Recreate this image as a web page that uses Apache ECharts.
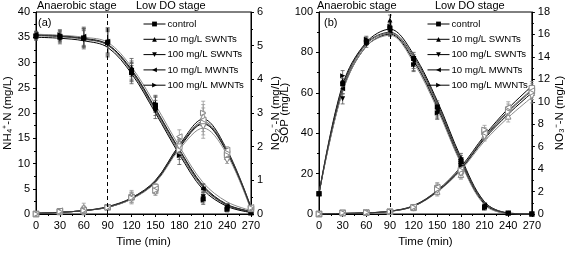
<!DOCTYPE html>
<html><head><meta charset="utf-8">
<script src="https://cdn.jsdelivr.net/npm/echarts@6/dist/echarts.min.js"></script>
<style>html,body{margin:0;padding:0;background:#fff}#c{width:567px;height:253px}</style>
</head><body><div id="c"></div>
<script>
// ---------- data ----------
const times = [0, 30, 60, 90, 120, 150, 180, 210, 240, 270];
const xTicks = [0, 30, 60, 90, 120, 150, 180, 210, 240, 270];
const seriesNames = ['control', '10 mg/L SWNTs', '100 mg/L SWNTs', '10 mg/L MWNTs', '100 mg/L MWNTs'];

// panel (a) NH4+-N (left axis), measured
const nh4Control  = [35.2, 35.0, 34.8, 34.0, 28.0, 21.0, 13.0, 3.0, 1.0, 0.2];
const nh4Swnt10   = [35.5, 35.3, 35.0, 34.4, 29.0, 22.0, 13.5, 5.2, 1.5, 0.3];
const nh4Swnt100  = [35.0, 34.7, 34.5, 33.6, 27.6, 20.4, 12.6, 3.4, 1.2, 0.2];
const nh4Mwnt10   = [35.6, 35.2, 35.2, 34.2, 28.5, 21.6, 13.3, 5.0, 1.6, 0.3];
const nh4Mwnt100  = [35.3, 35.5, 34.9, 33.8, 28.2, 21.8, 11.6, 2.7, 0.9, 0.2];
const nh4Err      = [0.6, 1.0, 1.8, 2.5, 1.8, 1.5, 1.8, 0.8, 0.5, 0.3];
// fitted curves
const nh4Fit1 = [35.5, 35.3, 34.8, 33.6, 28.6, 20.9, 12.8, 5.6, 1.9, 0.5];
const nh4Fit2 = [35.3, 35.1, 34.6, 33.4, 28.2, 20.4, 12.2, 5.2, 1.7, 0.4];
const nh4Fit3 = [35.0, 34.8, 34.3, 33.0, 27.8, 20.0, 11.8, 4.8, 1.5, 0.3];
const nh4Fit4 = [35.6, 35.4, 35.0, 34.0, 29.1, 21.6, 13.4, 6.2, 2.4, 0.7];
const nh4Fit5 = [35.4, 35.2, 34.7, 33.5, 28.4, 20.7, 12.6, 5.4, 1.8, 0.5];

// panel (a) NO2--N (right axis), measured
const no2Control  = [0, 0.08, 0.10, 0.20, 0.50, 0.80, 2.00, 2.70, 1.80, 0.15];
const no2Swnt10   = [0, 0.06, 0.20, 0.22, 0.55, 0.70, 2.10, 2.90, 1.70, 0.20];
const no2Swnt100  = [0, 0.05, 0.10, 0.18, 0.45, 0.65, 2.00, 2.60, 1.60, 0.15];
const no2Mwnt10   = [0, 0.10, 0.12, 0.20, 0.50, 0.75, 2.30, 2.80, 1.90, 0.20];
const no2Mwnt100  = [0, 0.07, 0.10, 0.19, 0.48, 0.70, 1.90, 3.00, 1.75, 0.18];
const no2Err      = [0.02, 0.05, 0.12, 0.06, 0.15, 0.10, 0.20, 0.35, 0.10, 0.05];
const no2Fit1 = [0.02, 0.05, 0.10, 0.22, 0.48, 1.00, 2.05, 2.82, 1.90, 0.20];
const no2Fit2 = [0.02, 0.05, 0.10, 0.20, 0.46, 0.97, 2.00, 2.75, 1.87, 0.18];
const no2Fit3 = [0.02, 0.05, 0.10, 0.20, 0.45, 0.95, 1.97, 2.68, 1.82, 0.15];
const no2Fit4 = [0.02, 0.05, 0.10, 0.20, 0.44, 0.93, 1.92, 2.55, 1.76, 0.12];
const no2Fit5 = [0.02, 0.05, 0.10, 0.21, 0.47, 0.98, 2.02, 2.70, 1.85, 0.17];

// panel (b) SOP (left axis), measured
const sopControl  = [10, 64.5, 85.0, 92.0, 77.0, 53.0, 26.0, 3.5, 0.5, 0];
const sopSwnt10   = [10, 66.0, 86.0, 96.0, 75.0, 51.0, 28.0, 4.0, 0.5, 0];
const sopSwnt100  = [10, 57.0, 84.0, 91.0, 73.5, 50.0, 25.0, 3.0, 0.3, 0];
const sopMwnt10   = [10, 62.0, 85.5, 90.5, 76.0, 52.0, 27.0, 4.5, 0.5, 0];
const sopMwnt100  = [10, 68.5, 86.5, 93.0, 74.0, 50.0, 24.0, 3.0, 0.4, 0];
const sopErr      = [0.5, 2.5, 1.5, 2.5, 3.0, 3.0, 2.0, 1.0, 0.3, 0.2];
const sopFit1 = [10, 64.0, 85.0, 91.5, 79.0, 56.0, 28.0, 6.0, 0.5, 0];
const sopFit2 = [10, 62.0, 84.0, 89.5, 77.0, 54.0, 26.5, 5.5, 0.4, 0];
const sopFit3 = [10, 61.0, 83.0, 89.0, 76.0, 53.0, 25.5, 5.0, 0.3, 0];
const sopFit4 = [10, 60.5, 83.0, 88.5, 75.0, 52.0, 25.0, 4.5, 0.3, 0];
const sopFit5 = [10, 63.0, 84.5, 90.0, 78.0, 55.0, 27.0, 5.8, 0.5, 0];

// panel (b) NO3--N (right axis), measured
const no3Control  = [0, 0.10, 0.12, 0.20, 0.60, 2.3, 3.8, 7.3, 9.3, 11.2];
const no3Swnt10   = [0, 0.08, 0.15, 0.22, 0.55, 2.0, 3.5, 7.0, 8.7, 10.8];
const no3Swnt100  = [0, 0.10, 0.10, 0.18, 0.50, 2.1, 3.6, 6.9, 9.0, 10.5];
const no3Mwnt10   = [0, 0.09, 0.13, 0.20, 0.65, 2.4, 4.0, 7.2, 9.5, 11.0];
const no3Mwnt100  = [0, 0.10, 0.14, 0.21, 0.60, 2.2, 3.9, 7.5, 9.1, 10.8];
const no3Err      = [0.05, 0.10, 0.10, 0.10, 0.20, 0.40, 0.40, 0.40, 0.50, 0.60];
const no3Fit1 = [0.02, 0.05, 0.10, 0.25, 0.75, 2.10, 4.20, 7.00, 9.40, 11.4];
const no3Fit2 = [0.02, 0.05, 0.10, 0.25, 0.72, 2.05, 4.10, 6.90, 9.20, 11.1];
const no3Fit3 = [0.02, 0.05, 0.10, 0.24, 0.70, 2.00, 4.00, 6.70, 8.90, 10.8];
const no3Fit4 = [0.02, 0.05, 0.10, 0.23, 0.68, 1.95, 3.90, 6.50, 8.60, 10.4];
const no3Fit5 = [0.02, 0.05, 0.10, 0.24, 0.70, 2.00, 4.00, 6.80, 9.10, 11.0];

// ---------- build ----------
const FONT = 'Liberation Sans, Arial, sans-serif';
const symbols = ['rect', 'triangle', 'triangle', 'triangle', 'triangle'];
const rotations = [0, 0, 180, 90, -90];
const fitColors = ['#000', '#666', '#000', '#888', '#333'];

const pair = (ys) => times.map((t, i) => [t, ys[i]]);
const series = [];

function addGroup(xIdx, yIdx, measured, err, fits, filled, withMarkLine) {
  fits.forEach((f, k) => {
    const s = {
      type: 'line', name: 'fit' + xIdx + '_' + yIdx + '_' + k, xAxisIndex: xIdx, yAxisIndex: yIdx,
      data: pair(f), smooth: 0.35, showSymbol: false, symbol: 'none', silent: true, z: 2,
      lineStyle: { color: fitColors[k], width: 1 }
    };
    if (withMarkLine && k === 0) {
      s.markLine = { silent: true, symbol: 'none', label: { show: false },
        lineStyle: { type: [4, 3], color: '#000', width: 1 }, data: [{ xAxis: 90 }] };
    }
    series.push(s);
  });
  const ebData = [];
  measured.forEach(m => times.forEach((t, i) => ebData.push([t, m[i], err[i]])));
  series.push({
    type: 'custom', name: 'err' + xIdx + '_' + yIdx, xAxisIndex: xIdx, yAxisIndex: yIdx, silent: true, z: 3,
    encode: { x: 0, y: 1 }, data: ebData,
    renderItem: (params, api) => {
      const x = api.value(0), y = api.value(1), e = api.value(2);
      const lo = api.coord([x, y - e]), hi = api.coord([x, y + e]);
      const st = { stroke: filled ? '#555' : '#999', lineWidth: 0.8 };
      return { type: 'group', children: [
        { type: 'line', shape: { x1: lo[0], y1: lo[1], x2: hi[0], y2: hi[1] }, style: st },
        { type: 'line', shape: { x1: lo[0] - 2, y1: lo[1], x2: lo[0] + 2, y2: lo[1] }, style: st },
        { type: 'line', shape: { x1: hi[0] - 2, y1: hi[1], x2: hi[0] + 2, y2: hi[1] }, style: st }
      ] };
    }
  });
  measured.forEach((m, k) => {
    series.push({
      type: 'line', name: filled ? seriesNames[k] : 'open' + xIdx + '_' + k,
      xAxisIndex: xIdx, yAxisIndex: yIdx, data: pair(m), z: 4,
      symbol: symbols[k], symbolRotate: rotations[k], symbolSize: filled ? 5 : 5.5, showSymbol: true,
      lineStyle: { opacity: 0, width: 0 },
      itemStyle: filled ? { color: '#000' } : { color: '#fff', borderColor: '#888', borderWidth: 1 }
    });
  });
}

addGroup(0, 0, [nh4Control, nh4Swnt10, nh4Swnt100, nh4Mwnt10, nh4Mwnt100], nh4Err,
  [nh4Fit1, nh4Fit2, nh4Fit3, nh4Fit4, nh4Fit5], true, true);
addGroup(0, 1, [no2Control, no2Swnt10, no2Swnt100, no2Mwnt10, no2Mwnt100], no2Err,
  [no2Fit1, no2Fit2, no2Fit3, no2Fit4, no2Fit5], false, false);
addGroup(1, 2, [sopControl, sopSwnt10, sopSwnt100, sopMwnt10, sopMwnt100], sopErr,
  [sopFit1, sopFit2, sopFit3, sopFit4, sopFit5], true, true);
addGroup(1, 3, [no3Control, no3Swnt10, no3Swnt100, no3Mwnt10, no3Mwnt100], no3Err,
  [no3Fit1, no3Fit2, no3Fit3, no3Fit4, no3Fit5], false, false);

const axisCommon = {
  axisLine: { show: true, lineStyle: { color: '#000', width: 1 } },
  axisTick: { show: true, inside: false, length: 3, lineStyle: { color: '#000' } },
  minorTick: { show: true, splitNumber: 2, length: 2, lineStyle: { color: '#000' } },
  splitLine: { show: false },
  axisLabel: { color: '#000', fontSize: 11, fontFamily: FONT, margin: 6 },
  nameTextStyle: { color: '#000', fontSize: 11.5, fontFamily: FONT }
};
function xAx(gi) {
  return Object.assign({}, axisCommon, {
    type: 'value', gridIndex: gi, min: 0, max: 270, interval: 30,
    name: 'Time (min)', nameLocation: 'middle', nameGap: 22
  });
}
function yAx(gi, pos, max, interval, name, gap) {
  return Object.assign({}, axisCommon, {
    type: 'value', gridIndex: gi, position: pos, min: 0, max: max, interval: interval,
    name: name, nameLocation: 'middle', nameRotate: 90, nameGap: gap
  });
}

const legendCommon = {
  orient: 'vertical', itemWidth: 22, itemHeight: 6, itemGap: 5.3,
  textStyle: { color: '#000', fontSize: 9.6, fontFamily: FONT, padding: [0, 0, 0, -3] },
  lineStyle: { color: '#000', width: 1, opacity: 1 },
  selectedMode: false, data: seriesNames, padding: 0
};

const textStyle = (t, x, y) => ({ type: 'text', left: x, top: y,
  style: { text: t, fill: '#000', fontSize: 11, fontFamily: FONT } });

const option = {
  animation: false,
  backgroundColor: '#fff',
  grid: [
    { left: 36, top: 12, width: 215, bottom: 35, show: true, borderColor: '#000', borderWidth: 1, backgroundColor: 'transparent' },
    { left: 319, top: 12, width: 213, bottom: 35, show: true, borderColor: '#000', borderWidth: 1, backgroundColor: 'transparent' }
  ],
  xAxis: [xAx(0), xAx(1)],
  yAxis: [
    yAx(0, 'left', 40, 5, 'NH\u2084\u207A-N (mg/L)', 19),
    yAx(0, 'right', 6, 1, 'NO\u2082\u207B-N (mg/L)', 19),
    yAx(1, 'left', 100, 20, 'SOP (mg/L)', 23),
    yAx(1, 'right', 18, 2, 'NO\u2083\u207B-N (mg/L)', 20)
  ],
  legend: [
    Object.assign({}, legendCommon, { left: 143, top: 19 }),
    Object.assign({}, legendCommon, { left: 427, top: 19 })
  ],
  graphic: [
    textStyle('Anaerobic stage', 37, 0),
    textStyle('Low DO stage', 136, 0),
    textStyle('Anaerobic stage', 317, 0),
    textStyle('Low DO stage', 435, 0),
    textStyle('(a)', 38, 17),
    textStyle('(b)', 324, 17)
  ],
  series: series
};

const chart = echarts.init(document.getElementById('c'), null, { renderer: 'canvas' });
chart.setOption(option);
</script>
</body></html>
